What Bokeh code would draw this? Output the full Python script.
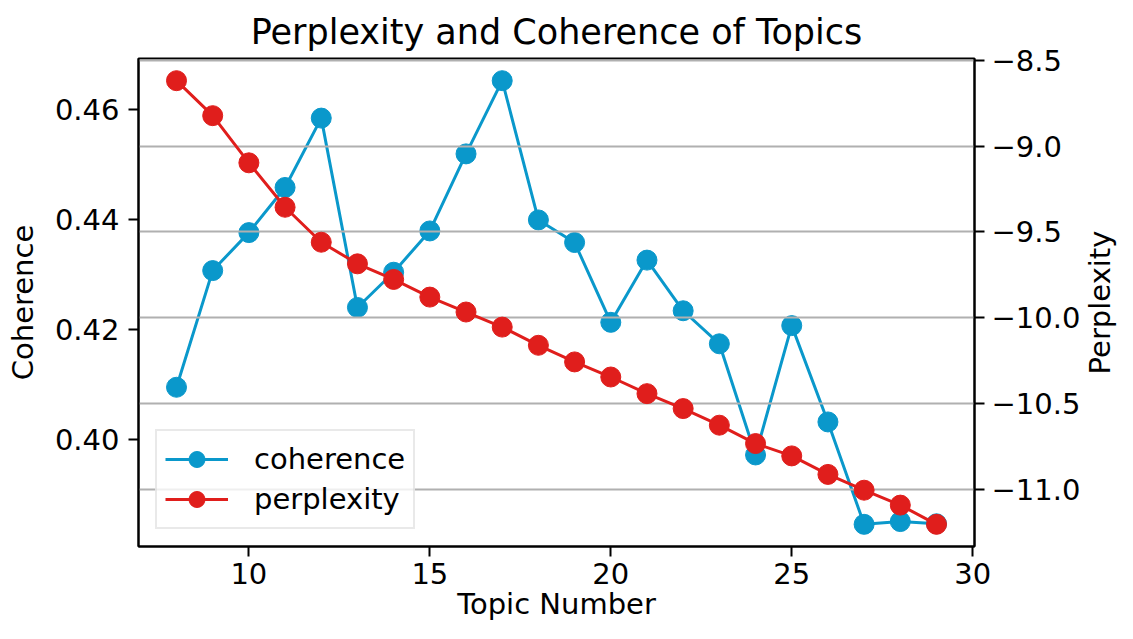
import math
from bokeh.plotting import figure
from bokeh.models import (Range1d, LinearAxis, FixedTicker, Grid, Legend, LegendItem, Label,
                          PrintfTickFormatter, CustomJSTickFormatter)
from bokeh.embed import file_html
from bokeh.resources import INLINE

# ---- data ----
topics = [8, 9, 10, 11, 12, 13, 14, 15, 16, 17, 18, 19, 20, 21, 22, 23, 24, 25, 26, 27, 28, 29]
coherence = [0.4095, 0.4307, 0.4376, 0.4458, 0.4584, 0.4240, 0.4304, 0.4379, 0.4519, 0.4652,
             0.4399, 0.4358, 0.4213, 0.4326, 0.4234, 0.4174, 0.3972, 0.4207, 0.4032, 0.3846,
             0.3851, 0.3847]
perplexity = [-8.618, -8.822, -9.097, -9.356, -9.560, -9.686, -9.777, -9.880, -9.967, -10.055,
              -10.161, -10.258, -10.346, -10.443, -10.530, -10.627, -10.734, -10.806, -10.914,
              -11.006, -11.093, -11.205]
x_ticks = [10, 15, 20, 25, 30]
coh_ticks = [0.40, 0.42, 0.44, 0.46]
perp_ticks = [-11.0, -10.5, -10.0, -9.5, -9.0, -8.5]

BLUE = "#0a98cb"
RED = "#e01e1c"
FONT = "DejaVu Sans"
FS = "29px"

FRAME_W = 837  # frame size in px (layout)


def padded(vals, frac=0.05):
    lo, hi = min(vals), max(vals)
    m = (hi - lo) * frac
    return lo - m, hi + m


xr = padded(topics)
cr = padded(coherence)
pr = padded(perplexity)

p = figure(width=1117, height=623, output_backend="svg", toolbar_location=None,
           x_range=Range1d(*xr), y_range=Range1d(*cr),
           min_border_left=138, min_border_right=142, min_border_top=58, min_border_bottom=76)
p.extra_y_ranges = {"perp": Range1d(*pr)}

p.title.text = "Perplexity and Coherence of Topics"
p.title.text_font = FONT
p.title.text_font_size = "35px"
p.title.text_font_style = "normal"
p.title.align = "center"
p.title.standoff = 14
p.title.text_color = "black"

p.xgrid.visible = False
p.ygrid.visible = False
p.outline_line_color = "black"
p.outline_line_width = 2
p.outline_line_alpha = 1.0
p.background_fill_color = "white"
p.border_fill_color = "white"

# axes
p.xaxis.ticker = FixedTicker(ticks=x_ticks)
p.xaxis.axis_label = "Topic Number"
p.yaxis.ticker = FixedTicker(ticks=coh_ticks)
p.yaxis.formatter = PrintfTickFormatter(format="%.2f")
p.yaxis.axis_label = "Coherence"

right = LinearAxis(y_range_name="perp", ticker=FixedTicker(ticks=perp_ticks),
                   formatter=CustomJSTickFormatter(code="return tick.toFixed(1).replace('-', '\u2212');"))
p.add_layout(right, "right")

for ax in [p.xaxis[0], p.yaxis[0], right]:
    ax.axis_line_width = 2
    ax.axis_line_color = "black"
    ax.major_tick_line_width = 2
    ax.major_tick_line_color = "black"
    ax.major_tick_out = 10
    ax.major_tick_in = 0
    ax.minor_tick_line_color = None
    ax.major_label_text_font = FONT
    ax.major_label_text_font_size = FS
    ax.major_label_text_color = "black"
    ax.axis_label_text_font = FONT
    ax.axis_label_text_font_size = FS
    ax.axis_label_text_font_style = "normal"
    ax.axis_label_text_color = "black"

p.yaxis[0].major_label_standoff = 9
p.yaxis[0].axis_label_standoff = 12
right.major_label_standoff = 7
p.xaxis[0].major_label_standoff = 6
p.xaxis[0].axis_label_standoff = 0

# right-axis title, reading bottom-to-top like the reference (placed in the right panel)
px_per_x = FRAME_W / (xr[1] - xr[0])
perp_label = Label(text="Perplexity", x=xr[1] + 126 / px_per_x, y=(pr[0] + pr[1]) / 2,
                   y_range_name="perp", angle=math.pi / 2, text_align="center",
                   text_baseline="alphabetic", text_font=FONT, text_font_size=FS,
                   text_color="black")
p.add_layout(perp_label, "right")

# coherence (left axis)
bl = p.line(topics, coherence, line_color=BLUE, line_width=3)
bs = p.scatter(topics, coherence, size=20, fill_color=BLUE, line_color=BLUE)

# grid from the right axis, drawn between the two series
grid = Grid(dimension=1, ticker=right.ticker, y_range_name="perp",
            grid_line_color="#b0b0b0", grid_line_width=2, level="glyph")
p.renderers.append(grid)

# perplexity (right axis)
rl = p.line(topics, perplexity, line_color=RED, line_width=3, y_range_name="perp")
rs = p.scatter(topics, perplexity, size=20, fill_color=RED, line_color=RED, y_range_name="perp")

legend = Legend(items=[LegendItem(label="coherence", renderers=[bl, bs]),
                       LegendItem(label="perplexity", renderers=[rl, rs])],
                location="bottom_left")
legend.margin = 17
legend.padding = 8
legend.spacing = 0
legend.glyph_width = 63
legend.glyph_height = 40
legend.label_standoff = 26
legend.label_text_font = FONT
legend.label_text_font_size = FS
legend.label_text_color = "black"
legend.border_line_color = "#d4d4d4"
legend.border_line_width = 2
legend.background_fill_color = "white"
legend.background_fill_alpha = 0.8
p.add_layout(legend)

open("out.html", "w").write(file_html(p, INLINE))
